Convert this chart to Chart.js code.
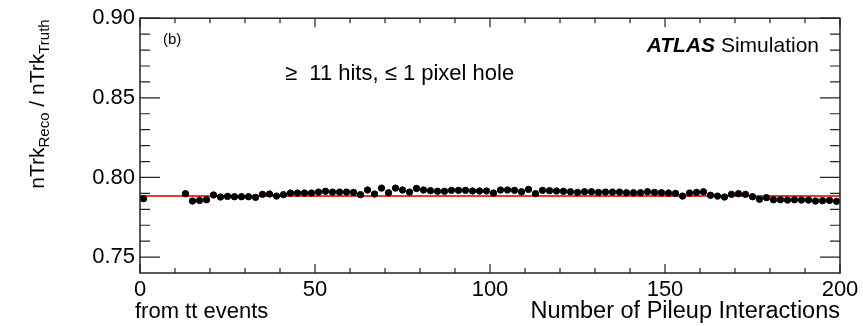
<!DOCTYPE html>
<html>
<head>
<meta charset="utf-8">
<script src="https://cdn.jsdelivr.net/npm/chart.js@4.4.1/dist/chart.umd.min.js"></script>
<style>
  body { margin: 0; background: #fff; }
  #wrap { width: 863px; height: 326px; }
</style>
</head>
<body>
<div id="wrap"><canvas id="effChart" width="863" height="326"></canvas></div>
<script>
// reco / truth track ratio vs pileup
const pileup = [1, 13, 15, 17, 19, 21, 23, 25, 27, 29, 31, 33, 35, 37, 39, 41, 43, 45, 47, 49,
  51, 53, 55, 57, 59, 61, 63, 65, 67, 69, 71, 73, 75, 77, 79, 81, 83, 85, 87, 89,
  91, 93, 95, 97, 99, 101, 103, 105, 107, 109, 111, 113, 115, 117, 119, 121, 123, 125, 127, 129,
  131, 133, 135, 137, 139, 141, 143, 145, 147, 149, 151, 153, 155, 157, 159, 161, 163, 165, 167, 169,
  171, 173, 175, 177, 179, 181, 183, 185, 187, 189, 191, 193, 195, 197, 199];
const ratio = [0.7867, 0.7898, 0.7852, 0.7856, 0.7860, 0.7890, 0.7877, 0.7881, 0.7879, 0.7879,
  0.7879, 0.7875, 0.7894, 0.7896, 0.7883, 0.7892, 0.7902, 0.7902, 0.7902, 0.7902,
  0.7908, 0.7913, 0.7908, 0.7908, 0.7908, 0.7906, 0.7892, 0.7921, 0.7896, 0.7933,
  0.7904, 0.7933, 0.7921, 0.7908, 0.7931, 0.7921, 0.7917, 0.7913, 0.7913, 0.7919,
  0.7919, 0.7919, 0.7915, 0.7915, 0.7915, 0.7902, 0.7921, 0.7921, 0.7919, 0.7910,
  0.7925, 0.7898, 0.7919, 0.7917, 0.7915, 0.7913, 0.7910, 0.7906, 0.7910, 0.7910,
  0.7906, 0.7908, 0.7908, 0.7908, 0.7904, 0.7904, 0.7904, 0.7910, 0.7906, 0.7904,
  0.7902, 0.7900, 0.7883, 0.7902, 0.7906, 0.7910, 0.7888, 0.7883, 0.7877, 0.7894,
  0.7898, 0.7894, 0.7879, 0.7863, 0.7873, 0.7860, 0.7860, 0.7858, 0.7860, 0.7858,
  0.7858, 0.7852, 0.7854, 0.7856, 0.7850];
const fitLevel = 0.7883;
const fitRange = [0, 200];
const xTicks = [0, 50, 100, 150, 200];
const yTicks = [0.75, 0.80, 0.85, 0.90];

const FONT = '"Liberation Sans", Arial, Helvetica, sans-serif';

// ROOT-style frame: box, inward ticks on all four sides, labels
const atlasFrame = {
  id: 'atlasFrame',
  afterDraw(chart) {
    const { ctx, chartArea: a, scales: { x, y } } = chart;
    ctx.save();
    ctx.strokeStyle = '#222';
    ctx.lineWidth = 1.5;
    ctx.strokeRect(a.left, a.top, a.right - a.left, a.bottom - a.top);

    ctx.lineWidth = 1.2;
    ctx.beginPath();
    for (let v = 0; v <= 200; v += 10) {
      const px = x.getPixelForValue(v);
      const len = v % 50 === 0 ? 9 : 5;
      ctx.moveTo(px, a.bottom); ctx.lineTo(px, a.bottom - len);
      ctx.moveTo(px, a.top); ctx.lineTo(px, a.top + len);
    }
    for (let i = 75; i <= 90; i++) {
      const py = y.getPixelForValue(i / 100);
      const len = i % 5 === 0 ? 20 : 10;
      ctx.moveTo(a.left, py); ctx.lineTo(a.left + len, py);
      ctx.moveTo(a.right, py); ctx.lineTo(a.right - len, py);
    }
    ctx.stroke();

    ctx.fillStyle = '#000';
    ctx.textBaseline = 'alphabetic';
    ctx.textAlign = 'left';
    ctx.font = '15px ' + FONT;
    ctx.fillText('(b)', a.left + 23, 44);

    ctx.font = 'italic bold 21px ' + FONT;
    const atlasW = ctx.measureText('ATLAS').width;
    ctx.font = '21px ' + FONT;
    const simW = ctx.measureText(' Simulation').width;
    const sx = 819 - atlasW - simW;
    ctx.font = 'italic bold 21px ' + FONT;
    ctx.fillText('ATLAS', sx, 52);
    ctx.font = '21px ' + FONT;
    ctx.fillText(' Simulation', sx + atlasW, 52);

    ctx.font = '22px ' + FONT;
    ctx.fillText('\u2265  11 hits, \u2264 1 pixel hole', 285, 80);

    ctx.font = '22px ' + FONT;
    ctx.fillText('from tt events', 135, 318);
    ctx.textAlign = 'right';
    ctx.font = '23.5px ' + FONT;
    ctx.fillText('Number of Pileup Interactions', a.right, 318);

    // y title with subscripts
    const parts = [['nTrk', 0], ['Reco', 1], [' / nTrk', 0], ['Truth', 1]];
    const mainF = '21px ' + FONT, subF = '15px ' + FONT;
    let total = 0;
    parts.forEach(p => { ctx.font = p[1] ? subF : mainF; total += ctx.measureText(p[0]).width; });
    ctx.translate(44, 104);
    ctx.rotate(-Math.PI / 2);
    ctx.textAlign = 'left';
    let cx = -total / 2;
    parts.forEach(p => {
      ctx.font = p[1] ? subF : mainF;
      ctx.fillText(p[0], cx, p[1] ? 5 : 0);
      cx += ctx.measureText(p[0]).width;
    });
    ctx.restore();
  }
};

new Chart(document.getElementById('effChart'), {
  type: 'scatter',
  data: {
    datasets: [
      {
        label: 'ratio',
        data: pileup.map((p, i) => ({ x: p, y: ratio[i] })),
        backgroundColor: '#000',
        borderColor: '#000',
        pointRadius: 3.2,
        pointHoverRadius: 3.2
      },
      {
        label: 'fit',
        type: 'line',
        data: fitRange.map(p => ({ x: p, y: fitLevel })),
        borderColor: '#e8392f',
        borderWidth: 2,
        pointRadius: 0,
        fill: false
      }
    ]
  },
  options: {
    responsive: false,
    animation: false,
    layout: { padding: { top: 17, right: 23, left: 0, bottom: 0 } },
    plugins: { legend: { display: false }, tooltip: { enabled: false } },
    scales: {
      x: {
        type: 'linear',
        min: 0,
        max: 200,
        afterBuildTicks: s => { s.ticks = xTicks.map(v => ({ value: v })); },
        afterFit: s => { s.height = 53; },
        grid: { display: false, drawTicks: false },
        border: { display: false },
        ticks: { color: '#000', font: { family: FONT, size: 22 }, padding: 4, maxRotation: 0, callback: v => String(v) }
      },
      y: {
        min: 0.74,
        max: 0.90,
        afterBuildTicks: s => { s.ticks = yTicks.map(v => ({ value: v })); },
        afterFit: s => { s.width = 140; },
        grid: { display: false, drawTicks: false },
        border: { display: false },
        ticks: { color: '#000', font: { family: FONT, size: 22 }, padding: 5, callback: v => v.toFixed(2) }
      }
    }
  },
  plugins: [atlasFrame]
});
</script>
</body>
</html>
